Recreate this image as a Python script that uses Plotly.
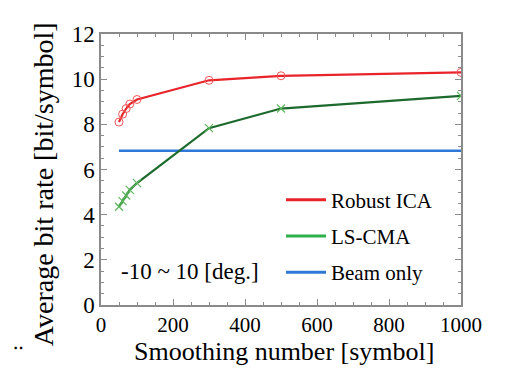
import plotly.graph_objects as go

smoothing = [50, 60, 70, 80, 100, 300, 500, 1000]
robust_ica = [8.1, 8.45, 8.7, 8.9, 9.1, 9.95, 10.15, 10.3]
ls_cma = [4.35, 4.6, 4.85, 5.1, 5.4, 7.83, 8.7, 9.26]
beam_x = [50, 1000]
beam_only = [6.83, 6.83]
x_ticks = [0, 200, 400, 600, 800, 1000]
y_ticks = [0, 2, 4, 6, 8, 10, 12]

FONT = "Liberation Serif"
fig = go.Figure()

fig.add_trace(go.Scatter(x=beam_x, y=beam_only, mode="lines",
                         line=dict(color="#2f78d8", width=2.5), showlegend=False))
fig.add_trace(go.Scatter(x=smoothing, y=ls_cma, mode="lines+markers",
                         line=dict(color="#1c6a2c", width=2.2),
                         marker=dict(symbol="x-thin", size=8, line=dict(color="#5cb85c", width=1.2)),
                         showlegend=False))
fig.add_trace(go.Scatter(x=smoothing, y=robust_ica, mode="lines+markers",
                         line=dict(color="#e8242a", width=2.2),
                         marker=dict(symbol="circle-open", size=8, color="#ee5a5a", line=dict(width=1)),
                         showlegend=False))

for name, col, grp in [("Robust ICA", "#e8242a", "a"), ("LS-CMA", "#2bb04a", "b"), ("Beam only", "#2f78d8", "c")]:
    fig.add_trace(go.Scatter(x=[None], y=[None], mode="lines", name=name,
                             line=dict(color=col, width=3), legendgroup=grp))

fig.add_annotation(x=0.05, y=1.5, xref="paper", yref="y", text="-10 ~ 10 [deg.]",
                   showarrow=False, xanchor="left", yanchor="middle", font=dict(size=23))
fig.add_annotation(x=-0.25, y=-0.137, xref="paper", yref="paper", text="‥",
                   showarrow=False, xanchor="left", yanchor="middle", font=dict(size=20))
fig.add_annotation(x=0.508, y=-0.172, xref="paper", yref="paper", text="Smoothing number [symbol]",
                   showarrow=False, xanchor="center", yanchor="middle", font=dict(size=26))
fig.add_annotation(x=-0.161, y=0.446, xref="paper", yref="paper", text="Average bit rate [bit/symbol]",
                   showarrow=False, xanchor="center", yanchor="middle", textangle=-90, font=dict(size=28))

axis_common = dict(showline=True, linecolor="#8a8a8a", linewidth=1.5, mirror="ticks",
                   ticks="inside", ticklen=6, tickcolor="#8a8a8a", tickwidth=1.2,
                   showgrid=False, zeroline=False)

fig.update_xaxes(range=[0, 1000], tickvals=x_ticks, tickfont=dict(size=21),
                 minor=dict(ticks="inside", ticklen=3, dtick=50, tickcolor="#8a8a8a", tickwidth=1),
                 **axis_common)
fig.update_yaxes(range=[0, 12], tickvals=y_ticks, tickfont=dict(size=23),
                 minor=dict(ticks="inside", ticklen=3, dtick=0.5, tickcolor="#8a8a8a", tickwidth=1),
                 **axis_common)

fig.update_layout(
    width=498, height=360,
    font=dict(family=FONT, color="black"),
    margin=dict(l=93, r=45, t=26, b=63),
    plot_bgcolor="white", paper_bgcolor="white",
    legend=dict(x=0.5, y=0.463, xanchor="left", yanchor="top",
                font=dict(size=21),
                bgcolor="rgba(0,0,0,0)", tracegroupgap=6, itemwidth=40),
)

fig.write_html("out.html")
